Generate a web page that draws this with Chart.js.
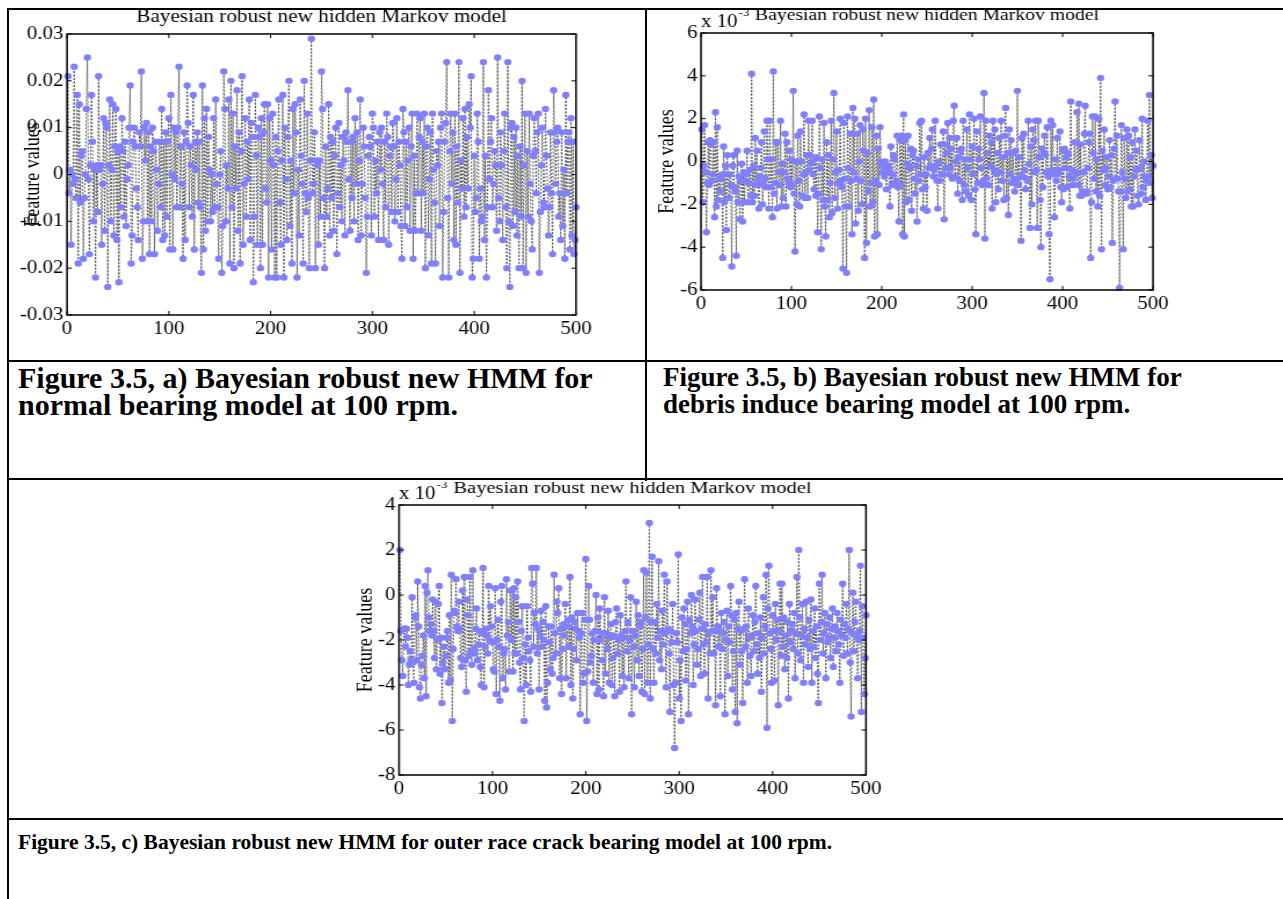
<!DOCTYPE html>
<html>
<head>
<meta charset="utf-8">
<script src="https://cdn.jsdelivr.net/npm/chart.js@4.4.1/dist/chart.umd.min.js"></script>
<style>
    body { margin: 0; background: #fff; width: 1283px; height: 899px; overflow: hidden; position: relative; font-family: "Liberation Serif", serif; }
    .rule { position: absolute; background: #000; }
    .wrap { position: absolute; transform-origin: 0 0; }
    .caption { position: absolute; font-weight: bold; font-size: 21.5px; line-height: 25px; white-space: nowrap; color: #000; }
</style>
</head>
<body>
<div class="rule" style="left:7px;top:8px;width:1276px;height:2px"></div>
<div class="rule" style="left:7px;top:8px;width:2px;height:891px"></div>
<div class="rule" style="left:645px;top:8px;width:2px;height:473px"></div>
<div class="rule" style="left:7px;top:360px;width:1276px;height:2px"></div>
<div class="rule" style="left:7px;top:478px;width:1276px;height:2px"></div>
<div class="rule" style="left:7px;top:818px;width:1276px;height:2px"></div>

<div class="wrap" id="graficoNormal"><canvas></canvas></div>
<div class="wrap" id="graficoDebris"><canvas></canvas></div>
<div class="wrap" id="graficoOuterRace"><canvas></canvas></div>

<div class="caption" style="left:18px;top:364px;font-size:30px;line-height:27px">Figure 3.5, a) Bayesian robust new HMM for<br>normal bearing model at 100 rpm.</div>
<div class="caption" style="left:663px;top:364px;font-size:27px;line-height:27px">Figure 3.5, b) Bayesian robust new HMM for<br>debris induce bearing model at 100 rpm.</div>
<div class="caption" style="left:18px;top:830px">Figure 3.5, c) Bayesian robust new HMM for outer race crack bearing model at 100 rpm.</div>

<script>
// feature values, all in units of 1e-3
const normalBearing = [
    21, -4, 1, -15, 0, -2, 23, -1, -5, 17, -19, 15, -6, 4, 5, -18, -5, 0, 14, 25,
    -1, -17, 2, 17, 7, -10, 1, -22, 2, -8, 21, 1, 2, -15, -2, 12, -12, 11, 10, -24,
    2, 16, -10, 1, 15, -13, 6, 14, -14, 5, -23, 6, -7, 12, 5, -9, 7, -11, -1, 2,
    10, 19, -19, -13, 7, 10, 6, -3, -7, -14, 9, 6, 22, -18, -10, 10, 3, 11, -10, 9,
    -17, 6, -10, 10, 5, -17, 7, 1, -12, -2, 7, -7, 14, -14, 7, -13, 9, -9, 7, 12,
    -16, 17, 0, -16, 10, -1, 9, -7, 10, 23, -7, 6, -2, -18, 9, -14, 7, 19, 11, -7,
    6, 2, -9, 17, -16, 7, 1, 9, -6, 7, -7, -21, 19, -16, 12, -12, 14, -10, 8, 1,
    -10, 0, -8, 12, -7, 16, -2, -7, -18, 0, 5, -21, -11, 22, 14, -10, 2, -3, 16, -19,
    20, -7, 13, -20, 6, -3, 18, -12, 9, -19, 5, 21, -15, -2, 12, -9, 7, -1, 16, -14,
    11, 8, -23, -9, 17, 4, -15, 10, 8, -20, 12, -15, 9, 15, -3, -6, 15, -22, 12, 3,
    -16, 13, 2, -22, 8, -22, 5, 16, -6, -15, 3, 17, -22, 10, -1, -14, 8, 20, -11, 3,
    -19, 14, -4, 15, 9, -22, 1, -13, 16, 4, -2, -19, 20, -4, -8, 13, -5, -20, 3, 29,
    -4, -2, 9, -20, 3, 2, -15, 3, -9, 22, 14, -5, -20, 6, -9, -3, 15, -13, 8, -5,
    7, -12, 4, 10, -17, -4, 11, -7, 2, -10, 8, 3, -13, 9, 7, 18, -1, -12, 7, -5,
    8, -10, 12, -2, 9, -14, 3, 16, -13, -2, 10, 6, -5, -21, -9, 4, 8, 6, -13, 13,
    10, -9, 3, -4, 7, -14, 9, 1, 10, -2, -14, 7, -7, 13, 8, -15, 4, 6, -8, 11,
    6, -10, -1, 12, -8, 7, 2, -11, -18, 14, 9, -11, 7, -7, 3, 10, -12, 6, 13, -18,
    4, -12, -4, 13, -4, 8, 12, -12, 7, -4, 13, -20, 6, 10, -13, -1, 9, -19, 13, 1,
    -6, -19, 5, 2, 7, -11, 10, 13, -22, -8, 7, 11, 24, -5, -22, 5, 13, -2, 9, -14,
    13, -15, 6, -6, 24, -21, 3, -3, 12, -9, 14, -7, 8, -3, 15, 10, 21, -22, -18, 4,
    -8, -5, 13, 7, -18, -3, -10, -9, 24, -14, 4, -22, -7, 18, -1, 7, 12, -7, -2, 5,
    2, -12, 25, -5, -10, 9, 2, -14, 5, 13, -7, -20, 24, -10, -24, 10, 11, -11, 8, -8,
    10, -13, 4, -20, 6, -9, 20, -20, 2, 13, -21, 5, -9, 13, -2, -10, -16, 4, 12, 5,
    -4, 9, 13, -21, -8, 2, 10, -6, -7, 14, 4, -3, -13, -7, 9, -4, -17, 18, 9, -2,
    7, 10, -9, -4, -14, 9, -11, 1, -18, 17, -4, 7, 9, -16, 12, -13, 7, -17, -14, -7
]

const debrisBearing = [
    1.5, -1.9, -0.2, 1.7, -0.5, -3.3, -1.0, 0.9, -1.1, 1.0, 0.8, -0.9, -0.6, 0.9, -2.6, 2.3, -2.1, 1.6, -1.8, -0.8,
    -1.4, -0.8, -0.6, -4.5, 0.7, -1.9, -0.2, -3.2, 0.3, -0.6, -1.7, -0.6, -1.1, -4.9, -0.2, 0.3, -1.2, -1.4, -4.4, 0.5,
    -1.9, -0.7, -2.7, -0.9, -0.1, -2.8, -0.5, -1.9, -0.9, -0.6, 0.5, -1.9, -1.0, -0.4, -1.6, 4.1, -1.9, -0.2, -1.6, 1.1,
    -1.1, 0.5, -0.9, -2.2, -0.7, -0.3, 0.9, -2.0, -1.1, 1.4, -0.8, -1.2, 1.9, 0.1, -2.2, 1.9, -1.2, 0.1, -2.6, 4.2,
    -1.5, -1.0, 0.9, -2.2, 0.9, -0.5, -1.1, 1.9, -2.1, -0.1, -1.7, -0.5, 1.3, -2.1, 0.9, -0.8, -1.0, 0.5, -1.2, 0.1,
    -1.1, 3.3, -1.5, -4.2, 0.0, -2.0, 1.2, -0.9, -2.1, 1.4, 0.0, -1.6, -0.6, 2.2, -1.7, -0.5, 0.3, -1.7, 1.9, -0.4,
    0.3, -0.1, 1.9, -0.6, -1.3, 0.1, -1.6, 0.2, -3.3, -1.5, 2.1, -0.3, -4.1, 0.1, -1.8, 1.8, -2.1, -3.5, 0.9, -1.8,
    0.3, -2.6, -1.0, 1.9, -2.4, 0.1, 3.2, -1.7, -0.5, 1.4, -2.2, -1.0, -0.4, 2.0, -0.9, -1.2, -5.0, 1.8, -0.8, -2.1,
    -5.2, 2.1, -0.3, -2.1, 1.3, -0.9, -3.4, 2.5, -0.5, 2.0, -2.9, -0.8, 1.3, -2.3, 0.0, 1.7, -0.9, -2.0, 1.5, 0.5,
    -4.5, 2.0, -3.8, 0.4, -1.4, 2.4, -2.1, -1.0, 1.6, -1.9, 2.9, -3.5, -0.9, 1.2, -3.4, 0.6, -1.1, 1.6, 0.0, -0.1,
    -0.5, -0.3, -0.7, 0.0, -1.3, -0.5, -0.2, -0.4, -2.1, 0.7, -1.1, -0.6, 0.3, 0.1, -1.1, -0.9, 1.2, -1.2, -2.8, 1.0,
    -1.1, 1.2, -3.4, 2.2, -3.5, 1.0, -1.9, -0.1, 1.2, -1.8, -0.3, 0.6, -2.3, 0.3, 0.5, -0.8, -1.5, -0.2, -2.8, 0.1,
    -0.9, 1.8, -0.6, 1.9, -1.3, -2.2, 0.2, -1.2, -0.6, -2.3, 0.4, -0.3, 1.1, -0.2, 0.6, 1.5, -0.7, -0.4, 1.9, -0.2,
    -0.9, -2.2, 0.0, -0.9, 0.8, -0.6, -0.6, 1.4, -2.7, 0.8, -0.3, 0.4, 1.8, -0.6, 1.1, -0.3, 0.6, -0.8, 1.9, 2.6,
    -0.7, 0.0, 1.1, -1.5, 0.2, -0.9, 0.5, 0.6, -1.8, 1.9, -1.1, 0.1, -1.4, 1.5, -0.3, -1.6, 2.2, 0.1, -1.8, 0.7,
    -0.6, 2.0, -1.3, -3.4, 1.4, -1.0, 0.6, 0.1, 2.1, -0.3, -1.1, -0.9, 3.2, -3.6, 1.9, -0.8, 0.4, -1.1, 1.2, -0.2,
    0.9, -2.2, 1.9, -0.4, 1.5, -1.9, -0.6, 0.4, -1.3, 1.1, -0.5, 1.9, -0.9, 0.2, -1.8, 1.2, 2.5, -1.7, 0.4, -2.5,
    1.5, -0.6, 1.0, -1.0, 0.4, -0.8, -1.4, 0.5, -0.9, 3.3, -1.1, 0.2, -0.7, -3.7, 1.1, -0.7, 1.3, -0.4, -1.3, -0.8,
    -0.9, 1.9, -0.1, -3.1, 0.7, -2.0, 1.5, 1.0, -0.5, 1.9, -0.4, -3.1, 1.9, 0.2, -1.8, -4.0, 0.6, -1.2, 0.4, 1.2,
    0.3, -0.5, 1.6, -0.7, -3.4, -5.5, 1.9, -0.4, 1.7, -0.6, -2.6, 0.1, -0.9, 1.1, -0.6, -0.4, 1.4, -1.2, -1.9, 0.5,
    -1.3, 0.6, -0.3, 0.2, -1.2, 0.4, -0.7, -2.2, 2.8, -0.4, -1.1, -0.8, 0.9, -0.5, -0.6, 2.3, -1.1, 2.7, -1.6, 0.8,
    -1.6, -1.4, -0.5, 1.3, 2.6, -1.5, -1.4, -0.3, 0.9, 1.3, -4.5, -1.9, 2.1, 0.4, -0.8, 2.1, -1.4, 0.1, -2.1, 2.0,
    -1.6, 3.9, -4.1, 0.5, -0.4, 1.5, -1.1, -0.3, 0.2, -1.3, -0.7, 1.0, -1.2, 0.3, -3.8, -0.9, 0.6, 2.8, -0.8, 1.2,
    -0.8, -1.4, -5.9, -1.4, 1.7, -0.5, -4.1, 1.1, -0.8, -1.7, 1.5, -1.4, 1.2, -1.3, 0.2, -2.1, 0.9, -2.1, -0.7, 1.5,
    -0.4, 0.5, -1.6, -2.0, 1.0, -0.3, -1.5, 2.0, -1.2, 0.0, -0.7, -1.8, -0.9, 1.9, -0.7, 3.1, -1.0, 0.3, -1.7, -0.2
]

const outerRaceBearing = [
    2.0, -1.6, -2.9, -3.6, -1.5, -1.5, -2.3, -1.5, -1.9, -4.0, -3.1, -2.5, -2.9, -0.1, -3.0, -3.9, -1.0, -0.9, -2.9, 0.6,
    -1.4, -4.1, -4.6, -3.1, -2.7, -1.8, -3.7, 0.4, -4.5, 0.1, 1.1, -1.0, -1.6, -1.3, -1.8, -0.2, -1.6, -2.8, -0.3, -3.3,
    -2.0, -0.4, 0.4, -3.5, -1.9, -4.8, -3.0, -2.3, -3.3, -2.7, -1.9, -1.6, -3.9, -0.9, -3.8, 0.9, -5.6, -2.4, -0.7, -0.8,
    0.7, -1.4, -1.6, -0.3, -1.5, -2.8, -3.2, 0.2, -2.9, 0.8, -2.9, -4.3, -0.2, -0.9, -2.7, 0.8, -2.5, -3.1, 1.1, -2.4,
    -2.6, -1.5, -0.6, -2.9, -2.2, -1.6, -3.2, -4.0, -1.7, 1.2, -4.1, -2.3, -1.5, -1.8, -2.6, 0.4, -2.0, -0.5, -1.4, -2.1,
    -3.3, -3.4, 0.3, -4.4, -2.0, -1.1, -2.3, -4.7, -0.3, 0.4, -3.7, -2.6, -2.4, -4.2, 0.7, -1.8, -1.2, -3.4, 0.2, -2.0,
    0.2, -3.4, 0.3, -2.6, -0.1, -2.6, 0.6, -1.2, -3.0, -4.2, -1.6, -0.5, -2.8, -5.6, -2.2, -4.0, -0.5, -1.9, -2.5, -2.9,
    -4.3, 1.2, 0.5, -2.3, -0.8, -1.3, 1.2, -2.6, -1.5, -4.2, -1.8, -0.7, -2.3, -1.2, -2.0, -4.7, -0.5, -5.0, -3.9, -1.4,
    -2.1, -3.3, -1.4, -3.5, -2.8, 0.9, -1.7, -2.6, -0.3, -0.8, 0.3, -3.7, -1.5, -4.4, -2.4, -1.3, -1.8, -0.4, -3.7, -1.4,
    -1.1, -2.3, 0.8, -4.0, -1.0, -4.6, -2.4, -1.2, -1.5, -2.9, -0.8, -1.6, -1.9, -5.3, -1.7, -0.8, -3.9, -3.5, -1.1, 1.6,
    -5.6, -3.4, 0.4, -1.1, -3.0, -2.7, -1.7, -3.9, -2.0, -1.6, 0.0, -4.4, -1.0, -4.2, -0.6, -2.0, -1.7, -2.9, -4.5, -0.1,
    -3.5, -1.7, -2.4, -0.7, -3.9, -1.9, -1.3, -4.0, -2.8, -1.8, -4.5, -1.2, -0.6, -2.6, -2.0, -4.3, -0.9, -1.8, -3.6, -1.9,
    -4.1, -1.6, 0.6, -2.5, -1.2, -3.7, -2.0, -0.1, -5.3, -1.6, -2.3, -4.1, -1.8, -0.3, -2.9, -0.9, -3.6, -1.4, -1.2, -4.3,
    -2.4, 1.1, -4.4, -1.0, 1.0, -3.9, -2.2, 3.2, -4.6, -1.2, 1.7, -2.4, -3.9, -1.2, -2.6, -0.4, -1.9, 1.5, -2.9, -1.6,
    -3.3, -0.7, -2.2, 0.9, -1.7, -4.1, 0.6, -1.5, -2.6, -5.2, -1.6, -2.1, -0.4, -4.0, -6.8, -3.9, -1.7, -2.1, 1.8, -4.6,
    -2.9, -5.6, -1.0, -2.5, -0.6, -1.3, -3.8, -2.4, -0.3, -5.3, -1.1, -1.7, 0.0, -1.4, -4.0, -2.2, -0.2, -1.6, -3.1, -2.4,
    -1.1, 0.1, -3.6, -1.5, 0.8, -2.2, -3.5, -1.3, -2.1, 0.8, -4.6, -1.7, -2.6, 1.1, -1.6, -0.1, -2.6, -1.6, -4.9, 0.3,
    -1.4, -2.3, -1.6, -4.5, -0.8, -2.4, -1.7, -1.2, -5.3, -2.0, -0.7, -3.6, -1.4, -2.1, 0.4, -0.9, -4.2, -2.5, -1.1, -5.2,
    -0.8, -5.7, -1.5, -0.3, -3.1, -1.6, -2.5, -4.8, -1.5, 0.7, -2.3, -1.4, -3.9, -0.6, -1.9, -2.7, -3.6, -1.8, -0.9, -2.5,
    -1.2, 0.4, -2.2, -3.5, -1.7, -2.8, -1.0, -4.3, -1.9, -0.1, -2.6, -1.4, 0.9, -5.9, -0.6, 1.3, -1.7, -2.4, -3.9, -0.9,
    -1.6, -3.8, -0.4, -2.0, -1.1, -4.9, -1.6, 0.5, -2.7, 0.5, -2.3, -1.0, -3.3, -1.8, -2.8, -1.2, -4.6, -0.4, -2.1, -1.6,
    -1.3, -2.4, -0.8, -3.7, -1.7, 0.8, -2.6, 2.0, -1.0, -2.9, -1.8, -0.4, -3.9, -1.5, -2.2, -0.3, -1.9, -3.2, -1.1, -2.4,
    -0.2, -3.9, -1.6, -2.3, -0.6, -2.8, -1.4, -3.5, -4.8, 0.5, -2.0, -1.2, 0.9, -2.6, -1.7, -0.8, -3.7, -1.3, -2.1, -1.9,
    -1.0, -2.8, -1.5, -0.6, -3.2, -1.9, -1.4, -2.5, -0.8, -1.6, -2.2, -3.9, -1.1, -1.8, 0.5, -2.7, -1.3, -1.9, -0.4, -2.6,
    -1.5, 2.0, -3.0, -5.4, -1.7, 0.1, -2.5, -1.2, -0.3, -1.8, -3.7, -2.0, -1.6, 1.3, -5.2, -0.5, -1.9, -4.4, -2.8, -0.9
]

const xTicks = [0, 100, 200, 300, 400, 500]
const xTickLabels = ['0', '100', '200', '300', '400', '500']
const normalTicks = [-30, -20, -10, 0, 10, 20, 30]
const normalTickLabels = ['-0.03', '-0.02', '-0.01', '0', '0.01', '0.02', '0.03']
const debrisTicks = [-6, -4, -2, 0, 2, 4, 6]
const debrisTickLabels = ['-6', '-4', '-2', '0', '2', '4', '6']
const outerRaceTicks = [-8, -6, -4, -2, 0, 2, 4]
const outerRaceTickLabels = ['-8', '-6', '-4', '-2', '0', '2', '4']

const chartTitle = 'Bayesian robust new hidden Markov model'
const yAxisTitle = 'Feature values'

const fonte = '"Liberation Serif", "Times New Roman", serif'

// box, inward ticks, title, exponent and y title, MATLAB style
const moldura = {
    id: 'moldura',
    afterDraw(chart, args, opts) {
        const { ctx, chartArea: a, scales: { x, y } } = chart
        ctx.save()
        ctx.strokeStyle = '#000'
        ctx.lineWidth = 1
        ctx.beginPath()
        x.ticks.forEach(t => {
            const p = x.getPixelForValue(t.value)
            ctx.moveTo(p, a.bottom); ctx.lineTo(p, a.bottom - 4)
            ctx.moveTo(p, a.top); ctx.lineTo(p, a.top + 4)
        })
        y.ticks.forEach(t => {
            const p = y.getPixelForValue(t.value)
            ctx.moveTo(a.left, p); ctx.lineTo(a.left + 4, p)
            ctx.moveTo(a.right, p); ctx.lineTo(a.right - 4, p)
        })
        ctx.stroke()
        ctx.lineWidth = 1.5
        ctx.strokeRect(a.left, a.top, a.right - a.left, a.bottom - a.top)

        ctx.fillStyle = '#000'
        ctx.textBaseline = 'middle'
        ctx.textAlign = 'center'
        ctx.font = `${opts.titleSize}px ${fonte}`
        ctx.fillText(opts.title, (a.left + a.right) / 2, a.top - 17)

        if (opts.exponent) {
            ctx.textAlign = 'left'
            ctx.font = `18px ${fonte}`
            ctx.fillText('x 10', a.left, a.top - 11)
            const w = ctx.measureText('x 10').width
            ctx.font = `11px ${fonte}`
            ctx.fillText('-3', a.left + w + 1, a.top - 20)
        }

        ctx.translate(a.left - opts.yTitleGap, (a.top + a.bottom) / 2)
        ctx.rotate(-Math.PI / 2)
        ctx.textAlign = 'center'
        ctx.font = `18px ${fonte}`
        ctx.fillText(opts.yTitle, 0, 0)
        ctx.restore()
    }
}

function criarGrafico(id, serie, caixa, area, yTicks, yTickLabels, exponent, titleSize) {
    const esticar = 1.16
    const largura = Math.round(caixa.w / esticar)
    const k = caixa.w / largura
    const altura = caixa.h
    const xH = 25

    const wrap = document.getElementById(id)
    wrap.style.left = caixa.x + 'px'
    wrap.style.top = caixa.y + 'px'
    wrap.style.transform = `scaleX(${k})`
    const canvas = wrap.querySelector('canvas')
    canvas.width = largura
    canvas.height = altura
    canvas.style.width = largura + 'px'
    canvas.style.height = altura + 'px'

    const left = (area.l - caixa.x) / k
    const right = (area.r - caixa.x) / k
    const top = area.t - caixa.y
    const bottom = area.b - caixa.y

    const tickFont = { family: fonte, size: 18 }

    return new Chart(canvas, {
        type: 'line',
        data: {
            datasets: [{
                data: serie.map((v, i) => ({ x: i + 1, y: v })),
                borderColor: '#5a5a5a',
                borderWidth: 1,
                borderDash: [2, 1.5],
                pointRadius: 3.2,
                pointBackgroundColor: 'rgb(128,128,255)',
                pointBorderWidth: 0,
                tension: 0,
                clip: false
            }]
        },
        options: {
            responsive: false,
            animation: false,
            devicePixelRatio: 1,
            layout: {
                padding: { left: 0, right: largura - right, top: top, bottom: altura - bottom - xH }
            },
            plugins: {
                legend: { display: false },
                tooltip: { enabled: false },
                moldura: { title: chartTitle, titleSize: titleSize, exponent: exponent, yTitle: yAxisTitle, yTitleGap: 33 / k }
            },
            scales: {
                x: {
                    type: 'linear',
                    min: 0,
                    max: 500,
                    afterBuildTicks: s => { s.ticks = xTicks.map(v => ({ value: v })) },
                    afterFit: s => { s.height = xH },
                    grid: { display: false, drawTicks: false },
                    border: { display: false },
                    ticks: { padding: 3, color: '#000', font: tickFont, maxRotation: 0, autoSkip: false, callback: (v, i) => xTickLabels[i] }
                },
                y: {
                    type: 'linear',
                    min: yTicks[0],
                    max: yTicks[yTicks.length - 1],
                    afterBuildTicks: s => { s.ticks = yTicks.map(v => ({ value: v })) },
                    afterFit: s => { s.width = left },
                    grid: { display: false, drawTicks: false },
                    border: { display: false },
                    ticks: { padding: 3, color: '#000', font: tickFont, autoSkip: false, callback: (v, i) => yTickLabels[i] }
                }
            }
        },
        plugins: [moldura]
    })
}

criarGrafico('graficoNormal', normalBearing,
    { x: 10, y: 0, w: 600, h: 345 }, { l: 67, t: 34, r: 576, b: 315 },
    normalTicks, normalTickLabels, false, 18.3)

criarGrafico('graficoDebris', debrisBearing,
    { x: 650, y: 0, w: 540, h: 320 }, { l: 701, t: 33, r: 1153, b: 290 },
    debrisTicks, debrisTickLabels, true, 17)

criarGrafico('graficoOuterRace', outerRaceBearing,
    { x: 345, y: 482, w: 560, h: 320 }, { l: 399, t: 505, r: 866, b: 775 },
    outerRaceTicks, outerRaceTickLabels, true, 17.7)
</script>
</body>
</html>
